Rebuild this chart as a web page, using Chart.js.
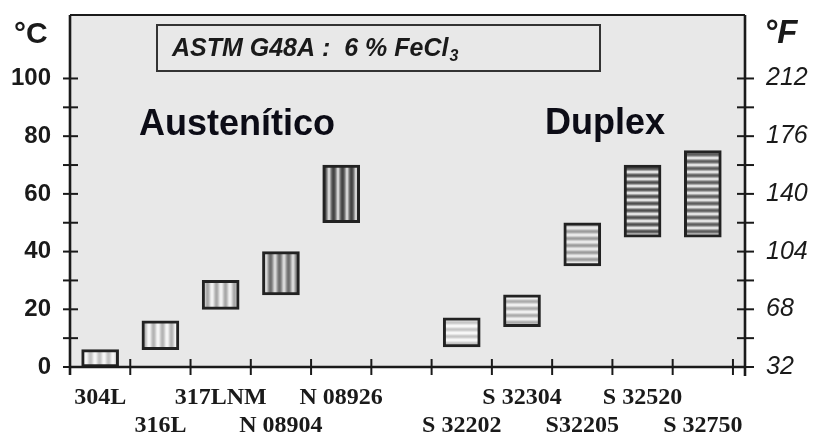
<!DOCTYPE html>
<html lang="es">
<head>
<meta charset="utf-8">
<title>CPT ASTM G48A</title>
<script src="https://cdn.jsdelivr.net/npm/chart.js@4.4.0/dist/chart.umd.min.js"></script>
<style>
  html, body { margin: 0; padding: 0; background: #fff; }
  canvas { display: block; }
</style>
</head>
<body>
<canvas id="cptChart" width="814" height="437"></canvas>
<script>
// ------------------------------
// Critical pitting temperature ranges (°C), ASTM G48A, 6 % FeCl3
// ------------------------------
const grades  = ['304L', '316L', '317LNM', 'N 08904', 'N 08926', '', 'S 32202', 'S 32304', 'S32205', 'S 32520', 'S 32750'];
const cptLow  = [0, 6, 20, 25, 50, null, 7, 14, 35, 45, 45];
const cptHigh = [6, 16, 30, 40, 70, null, 17, 25, 50, 70, 75];
const celsiusTicks    = [0, 20, 40, 60, 80, 100];
const fahrenheitTicks = [32, 68, 104, 140, 176, 212];

const Y_MAX = 122;
const DUPLEX_START = 6;

// stripe tones per grade: [light, dark, weight of dark]
const stripeTones = [
  ['#f6f6f6', '#c2c2c2', 1.0],
  ['#f6f6f6', '#b4b4b4', 1.0],
  ['#f2f2f2', '#a8a8a8', 1.0],
  ['#dedede', '#6e6e6e', 0.8],
  ['#e6e6e6', '#444444', 0.6],
  null,
  ['#fafafa', '#c6c6c6', 1.0],
  ['#f2f2f2', '#acacac', 1.0],
  ['#ececec', '#9c9c9c', 1.0],
  ['#f0f0f0', '#505050', 0.8],
  ['#eeeeee', '#5e5e5e', 0.8]
];

function hexToRgb(hex) {
  const n = parseInt(hex.slice(1), 16);
  return [(n >> 16) & 255, (n >> 8) & 255, n & 255];
}

// soft stripes, like the hatch of the original figure
function makeStripes(light, dark, weight, vertical) {
  const period = vertical ? 9 : 7;
  const c = document.createElement('canvas');
  c.width = vertical ? period : 1;
  c.height = vertical ? 1 : period;
  const g = c.getContext('2d');
  const a = hexToRgb(light), b = hexToRgb(dark);
  for (let k = 0; k < period; k++) {
    const t = Math.pow(0.5 + 0.5 * Math.cos(2 * Math.PI * k / period), weight);
    const rgb = a.map((v, j) => Math.round(v + (b[j] - v) * t));
    g.fillStyle = 'rgb(' + rgb.join(',') + ')';
    if (vertical) g.fillRect(k, 0, 1, 1); else g.fillRect(0, k, 1, 1);
  }
  return g.createPattern(c, 'repeat');
}

const fills = stripeTones.map((t, i) => t ? makeStripes(t[0], t[1], t[2], i < DUPLEX_START) : 'transparent');

// one row per label, staggered inside each group
function labelLines(i) {
  const row = i < DUPLEX_START ? i % 2 : (i - 5) % 2;
  return row === 0 ? [grades[i]] : ['', grades[i]];
}

function line(ctx, x1, y1, x2, y2) {
  ctx.beginPath();
  ctx.moveTo(x1, y1);
  ctx.lineTo(x2, y2);
  ctx.stroke();
}

// axes keep a fixed size and no extra padding for their labels
function fixSize(key, size) {
  return (scale) => {
    scale[key] = size;
    scale.paddingTop = 0;
    scale.paddingBottom = 0;
    scale.paddingLeft = 0;
    scale.paddingRight = 0;
  };
}

// ------------------------------
// Frame, crossing ticks and the texts on the plot
// ------------------------------
const frame = {
  id: 'frame',
  beforeDraw(chart) {
    const { ctx, chartArea: a } = chart;
    ctx.save();
    ctx.fillStyle = '#e8e8e8';
    ctx.fillRect(a.left, a.top, a.right - a.left, a.bottom - a.top);
    ctx.restore();
  },
  afterDraw(chart) {
    const { ctx, chartArea: a, scales } = chart;
    const x = scales.x, y = scales.y;
    ctx.save();
    ctx.strokeStyle = '#1a1a1a';
    ctx.lineWidth = 2;
    line(ctx, a.left, a.top, a.right, a.top);
    ctx.lineWidth = 2.6;
    line(ctx, a.left, a.top, a.left, a.bottom + 8);
    line(ctx, a.right, a.top, a.right, a.bottom + 9);
    line(ctx, a.left, a.bottom, a.right, a.bottom);

    ctx.lineWidth = 2;
    for (let v = 0; v <= 100; v += 10) {
      const py = y.getPixelForValue(v);
      line(ctx, a.left - 7, py, a.left + 8, py);
      line(ctx, a.right - 8, py, a.right + 9, py);
    }
    for (let i = 0; i < grades.length; i++) {
      const px = x.getPixelForValue(i + 0.5);
      line(ctx, px, a.bottom - 8, px, a.bottom + 8);
    }

    // test box
    ctx.strokeStyle = '#333';
    ctx.lineWidth = 2;
    ctx.strokeRect(157, 25, 443, 46);
    ctx.fillStyle = '#1a1a1a';
    ctx.textBaseline = 'alphabetic';
    ctx.font = 'italic bold 25px "Liberation Sans", Arial, sans-serif';
    const title = 'ASTM G48A :  6 % FeCl';
    ctx.fillText(title, 172, 56);
    const w = ctx.measureText(title).width;
    ctx.font = 'italic bold 16px "Liberation Sans", Arial, sans-serif';
    ctx.fillText('3', 172 + w + 1, 61);

    // units
    ctx.font = 'bold 30px "Liberation Sans", Arial, sans-serif';
    ctx.fillText('°C', 14, 43);
    ctx.font = 'italic bold 33px "Liberation Sans", Arial, sans-serif';
    ctx.fillText('°F', 764, 43);

    // group names
    ctx.fillStyle = '#0c0c16';
    ctx.font = 'bold 36px "Liberation Sans", Arial, sans-serif';
    ctx.fillText('Austenítico', 139, 135);
    ctx.fillText('Duplex', 545, 134);
    ctx.restore();
  }
};

const points = grades
  .map((g, i) => ({ x: i, y: [cptLow[i], cptHigh[i]] }))
  .filter((p) => grades[p.x] !== '');

new Chart(document.getElementById('cptChart'), {
  type: 'bar',
  data: {
    datasets: [{
      data: points,
      backgroundColor: points.map((p) => fills[p.x]),
      borderColor: '#222',
      borderWidth: 3,
      borderSkipped: false,
      barThickness: 37
    }]
  },
  options: {
    responsive: false,
    animation: false,
    events: [],
    layout: { padding: { top: 15, left: 0, right: 0, bottom: 0 } },
    plugins: { legend: { display: false }, tooltip: { enabled: false } },
    scales: {
      x: {
        type: 'linear',
        offset: false,
        min: -0.5,
        max: 10.7,
        grid: { display: false, drawTicks: false },
        border: { display: false },
        afterBuildTicks: (scale) => {
          scale.ticks = grades.map((g, i) => ({ value: i })).filter((t) => grades[t.value] !== '');
        },
        afterFit: fixSize('height', 70),
        ticks: {
          autoSkip: false,
          maxRotation: 0,
          padding: 16,
          color: '#1a1a1a',
          font: { family: '"Liberation Serif", "Times New Roman", serif', size: 24, weight: 'bold', lineHeight: 1.2 },
          callback: (value) => labelLines(value)
        }
      },
      y: {
        position: 'left',
        min: 0,
        max: Y_MAX,
        grid: { display: false, drawTicks: false },
        border: { display: false },
        afterBuildTicks: (scale) => { scale.ticks = celsiusTicks.map((v) => ({ value: v })); },
        afterFit: fixSize('width', 70),
        ticks: {
          padding: 19,
          color: '#1a1a1a',
          font: { family: '"Liberation Sans", Arial, sans-serif', size: 24, weight: 'bold' }
        }
      },
      yF: {
        position: 'right',
        min: 32,
        max: 32 + 1.8 * Y_MAX,
        grid: { display: false, drawTicks: false },
        border: { display: false },
        afterBuildTicks: (scale) => { scale.ticks = fahrenheitTicks.map((v) => ({ value: v })); },
        afterFit: fixSize('width', 69),
        ticks: {
          padding: 21,
          color: '#1a1a1a',
          font: { family: '"Liberation Sans", Arial, sans-serif', size: 25, style: 'italic' }
        }
      }
    }
  },
  plugins: [frame]
});
</script>
</body>
</html>
